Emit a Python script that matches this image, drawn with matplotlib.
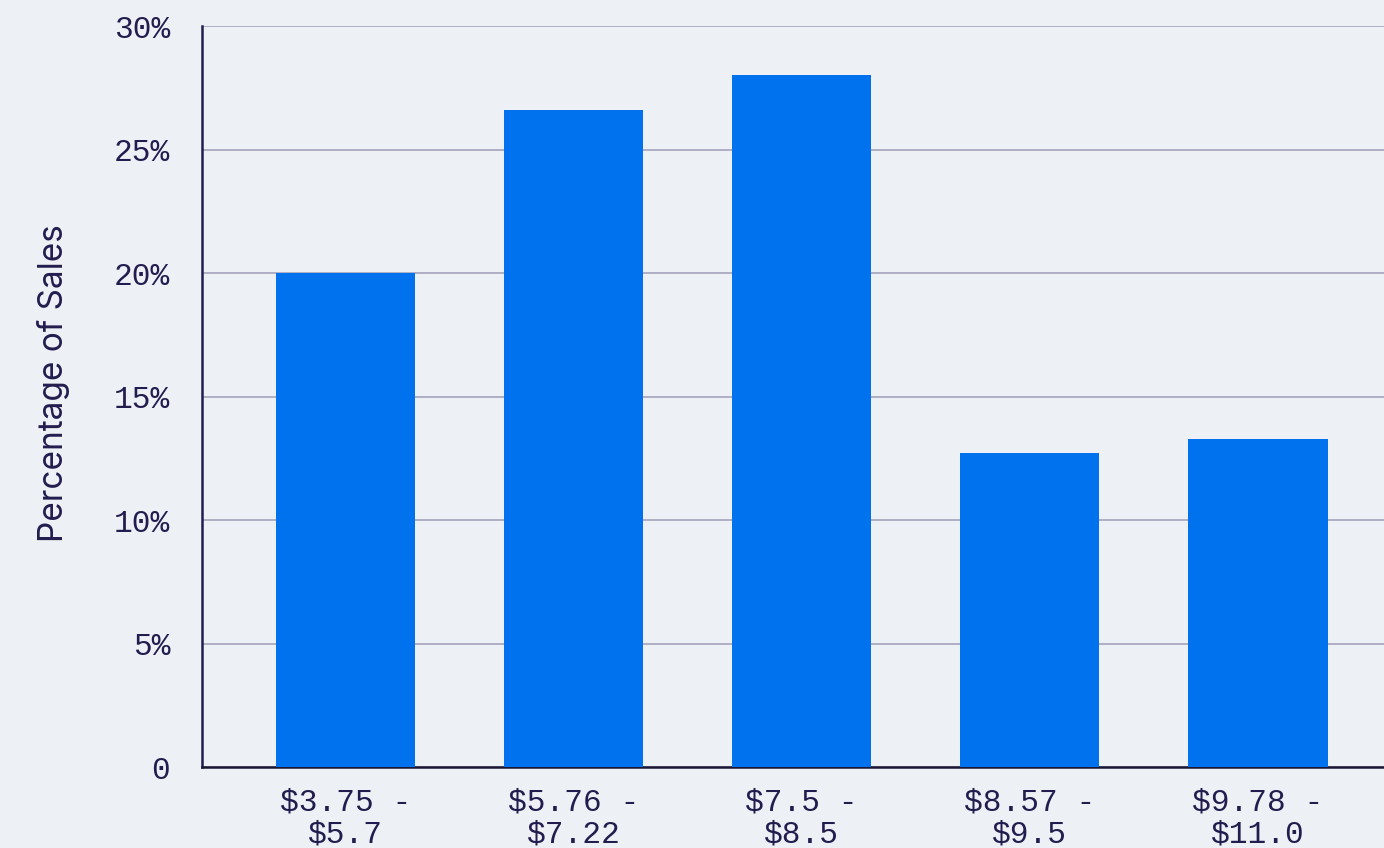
import matplotlib
matplotlib.use("Agg")
import matplotlib.pyplot as plt
import numpy as np

price_bands = ["$3.75 -\n$5.7", "$5.76 -\n$7.22", "$7.5 -\n$8.5", "$8.57 -\n$9.5", "$9.78 -\n$11.0"]
sales_pct = [20.0, 26.6, 28.0, 12.7, 13.3]
y_ticks = [0, 5, 10, 15, 20, 25, 30]
y_tick_labels = ["0", "5%", "10%", "15%", "20%", "25%", "30%"]

bg = "#edf1f5"
navy = "#231d4f"

fig = plt.figure(figsize=(13.84, 8.48), dpi=100, facecolor=bg)
ax = fig.add_axes([0.146, 0.0955, 0.854, 0.8738], facecolor=bg)

x = np.arange(len(price_bands))
ax.bar(x, sales_pct, width=0.61, color="#0072ee", zorder=3)

ax.set_xlim(-0.627, 4.552)
ax.set_ylim(0, 30)
ax.set_yticks(y_ticks)
ax.set_yticklabels(y_tick_labels)
ax.set_xticks(x)
ax.set_xticklabels(price_bands, linespacing=1.08)

for lab in ax.get_xticklabels() + ax.get_yticklabels():
    lab.set_fontfamily("Liberation Mono")
    lab.set_fontsize(22.5)
    lab.set_color(navy)

ax.tick_params(axis="y", length=0, pad=23)
ax.tick_params(axis="x", length=0, pad=15)

ax.grid(axis="y", color="#aaa8bf", linewidth=1.3, zorder=0)
ax.set_axisbelow(True)

for s in ["top", "right"]:
    ax.spines[s].set_visible(False)
ax.spines["left"].set_color(navy)
ax.spines["left"].set_linewidth(1.8)
ax.spines["bottom"].set_color("#1a1633")
ax.spines["bottom"].set_linewidth(1.8)

fig.text(54 / 1384, 1 - 383 / 848, "Percentage of Sales", rotation=90,
         ha="center", va="center", fontsize=24, color=navy, family="Inter")

fig.savefig("out.png", dpi=100, facecolor=bg)
